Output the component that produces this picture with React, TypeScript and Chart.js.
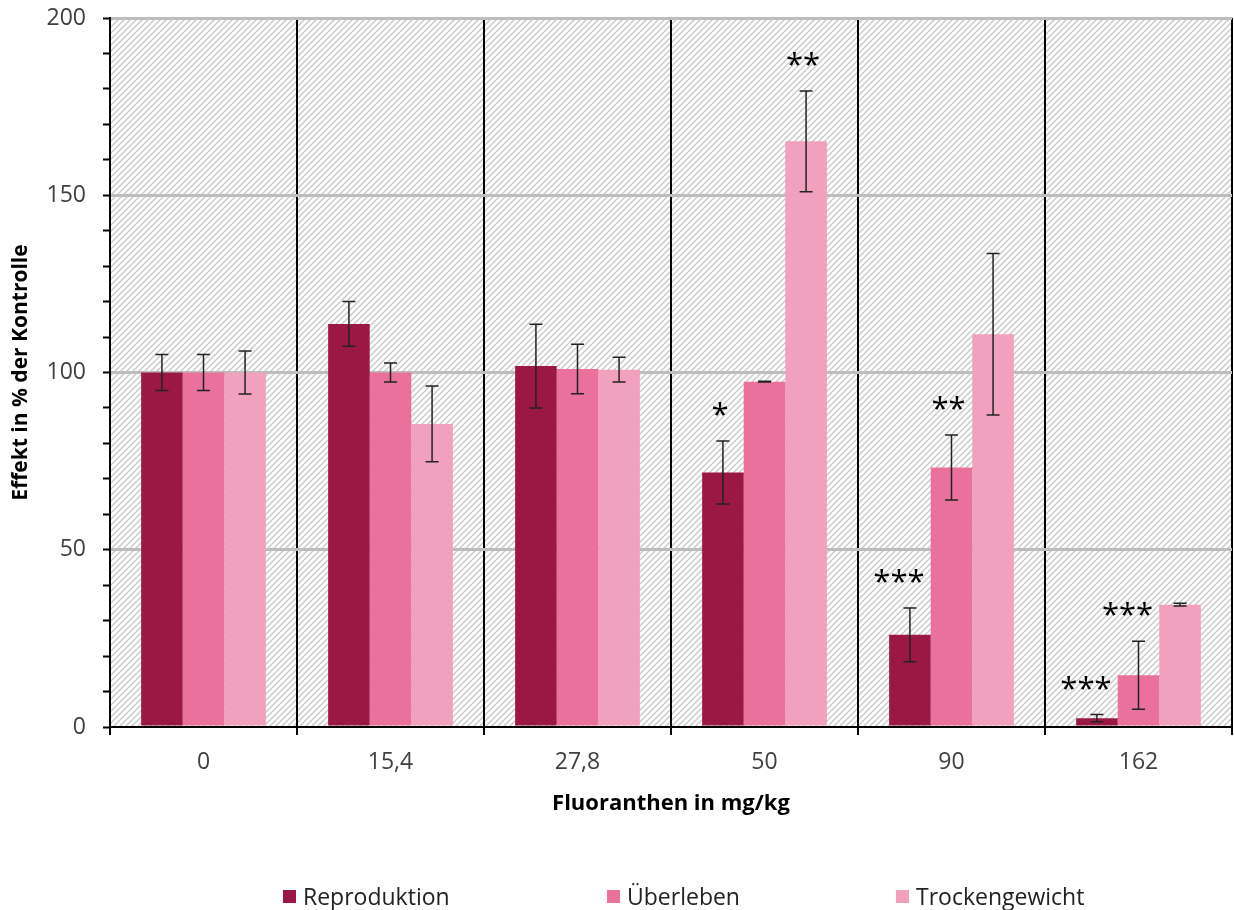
import React, { useEffect, useRef } from "react";
import { Chart, registerables } from "chart.js";

Chart.register(...registerables);

const categories = ["0", "15,4", "27,8", "50", "90", "162"];
const seriesNames = ["Reproduktion", "Überleben", "Trockengewicht"];
const seriesColors = ["#9B1845", "#E9719C", "#F1A1BD"];

const reproduktion = [100, 113.7, 101.8, 71.8, 26.0, 2.5];
const ueberleben = [100, 100, 101, 97.4, 73.2, 14.6];
const trockengewicht = [100, 85.5, 100.8, 165.2, 110.8, 34.5];

const reproduktionErr = [5.1, 6.3, 11.8, 8.9, 7.6, 1.0];
const ueberlebenErr = [5.1, 2.7, 7.0, 0.1, 9.2, 9.6];
const trockengewichtErr = [6.1, 10.7, 3.5, 14.2, 22.8, 0.4];

const reproduktionSig = ["", "", "", "*", "***", "***"];
const ueberlebenSig = ["", "", "", "", "**", "***"];
const trockengewichtSig = ["", "", "", "**", "", ""];

const yTickLabels = [0, 50, 100, 150, 200];

const FONT = "'Open Sans', sans-serif";

const hatchPlugin = {
  id: "hatchBg",
  beforeDraw(chart: any) {
    const { ctx, chartArea } = chart;
    if (!chartArea) return;
    const tile = document.createElement("canvas");
    tile.width = 6;
    tile.height = 6;
    const t = tile.getContext("2d")!;
    t.fillStyle = "#ffffff";
    t.fillRect(0, 0, 6, 6);
    t.strokeStyle = "#c8c8c8";
    t.lineWidth = 1.4;
    t.beginPath();
    t.moveTo(-1, 7);
    t.lineTo(7, -1);
    t.moveTo(-4, 4);
    t.lineTo(4, -4);
    t.moveTo(2, 10);
    t.lineTo(10, 2);
    t.stroke();
    const pat = ctx.createPattern(tile, "repeat");
    ctx.save();
    ctx.fillStyle = pat;
    ctx.fillRect(chartArea.left, chartArea.top, chartArea.right - chartArea.left, chartArea.bottom - chartArea.top);
    ctx.restore();
  },
};

const errorPlugin = {
  id: "errorBarsSig",
  afterDatasetsDraw(chart: any) {
    const { ctx } = chart;
    const y = chart.scales.y;
    chart.data.datasets.forEach((ds: any, di: number) => {
      const meta = chart.getDatasetMeta(di);
      meta.data.forEach((bar: any, i: number) => {
        const v = ds.data[i];
        const e = ds.errors[i];
        const yt = y.getPixelForValue(v + e);
        const yb = y.getPixelForValue(v - e);
        const x = bar.x;
        ctx.save();
        ctx.strokeStyle = "#222";
        ctx.lineWidth = 1.5;
        ctx.beginPath();
        ctx.moveTo(x, yt);
        ctx.lineTo(x, yb);
        ctx.moveTo(x - 6.5, yt);
        ctx.lineTo(x + 6.5, yt);
        ctx.moveTo(x - 6.5, yb);
        ctx.lineTo(x + 6.5, yb);
        ctx.stroke();
        const s = ds.sig[i];
        if (s) {
          ctx.fillStyle = "#000";
          ctx.font = `31px ${FONT}`;
          ctx.textAlign = "center";
          ctx.textBaseline = "alphabetic";
          const dx = s.length >= 3 ? -11 : -3;
          ctx.fillText(s, x + dx, yt - 16);
        }
        ctx.restore();
      });
    });
  },
};

export default function App() {
  const ref = useRef<HTMLCanvasElement | null>(null);
  useEffect(() => {
    if (!ref.current) return;
    const values = [reproduktion, ueberleben, trockengewicht];
    const errs = [reproduktionErr, ueberlebenErr, trockengewichtErr];
    const sigs = [reproduktionSig, ueberlebenSig, trockengewichtSig];
    const chart = new Chart(ref.current, {
      type: "bar",
      data: {
        labels: categories,
        datasets: seriesNames.map((n, k) => ({
          label: n,
          data: values[k],
          errors: errs[k],
          sig: sigs[k],
          backgroundColor: seriesColors[k],
          borderWidth: 0,
          barPercentage: 1,
          categoryPercentage: 0.667,
        })) as any,
      },
      options: {
        animation: false,
        responsive: true,
        maintainAspectRatio: false,
        layout: { padding: { top: 18, left: 0, right: 2, bottom: 0 } },
        plugins: {
          legend: { display: false },
          tooltip: { enabled: false },
        },
        scales: {
          x: {
            afterFit: (s: any) => {
              s.height = 183;
              s.paddingLeft = 0;
              s.paddingRight = 0;
            },
            grid: {
              offset: true,
              color: (c: any) => (c.index === categories.length ? "rgba(0,0,0,0)" : "#000"),
              lineWidth: 2,
              tickLength: 8,
              tickColor: "#000",
            },
            border: { color: "#000", width: 2 },
            ticks: { color: "#404040", font: { family: FONT, size: 23 }, padding: 14 },
            title: {
              display: true,
              text: "Fluoranthen in mg/kg",
              color: "#000",
              font: { family: FONT, size: 22, weight: "bold" },
              padding: { top: 0, bottom: 93 },
            },
          },
          y: {
            min: 0,
            max: 200,
            afterFit: (s: any) => {
              s.width = 110;
              s.paddingTop = 0;
              s.paddingBottom = 0;
            },
            grid: {
              color: (c: any) =>
                c.tick && c.tick.value > 0 && yTickLabels.includes(c.tick.value) ? "#BDBDBD" : "rgba(0,0,0,0)",
              lineWidth: 3,
              tickLength: 7,
              tickColor: "#000",
              tickWidth: 2,
            },
            border: { color: "#000", width: 2 },
            ticks: {
              stepSize: 10,
              autoSkip: false,
              color: "#404040",
              font: { family: FONT, size: 23 },
              padding: 17,
              callback: (v: any) => (yTickLabels.includes(Number(v)) ? String(v) : ""),
            },
            title: {
              display: true,
              text: "Effekt in % der Kontrolle",
              color: "#000",
              font: { family: FONT, size: 21, weight: "bold" },
              padding: { top: 8, bottom: 0 },
            },
          },
        },
      },
      plugins: [hatchPlugin, errorPlugin],
    });
    return () => chart.destroy();
  }, []);

  const legendLefts = [283, 607, 896];
  return (
    <div style={{ position: "fixed", left: 0, top: 0, width: 1234, height: 910, background: "#fff" }}>
      <canvas ref={ref} />
      {seriesNames.map((n, k) => (
        <div
          key={n}
          style={{
            position: "absolute",
            left: legendLefts[k],
            top: 882,
            height: 28,
            display: "flex",
            alignItems: "center",
            fontFamily: FONT,
            fontSize: 23,
            color: "#222",
          }}
        >
          <span style={{ display: "inline-block", width: 13, height: 13, background: seriesColors[k], marginRight: 7 }} />
          <span>{n}</span>
        </div>
      ))}
    </div>
  );
}
